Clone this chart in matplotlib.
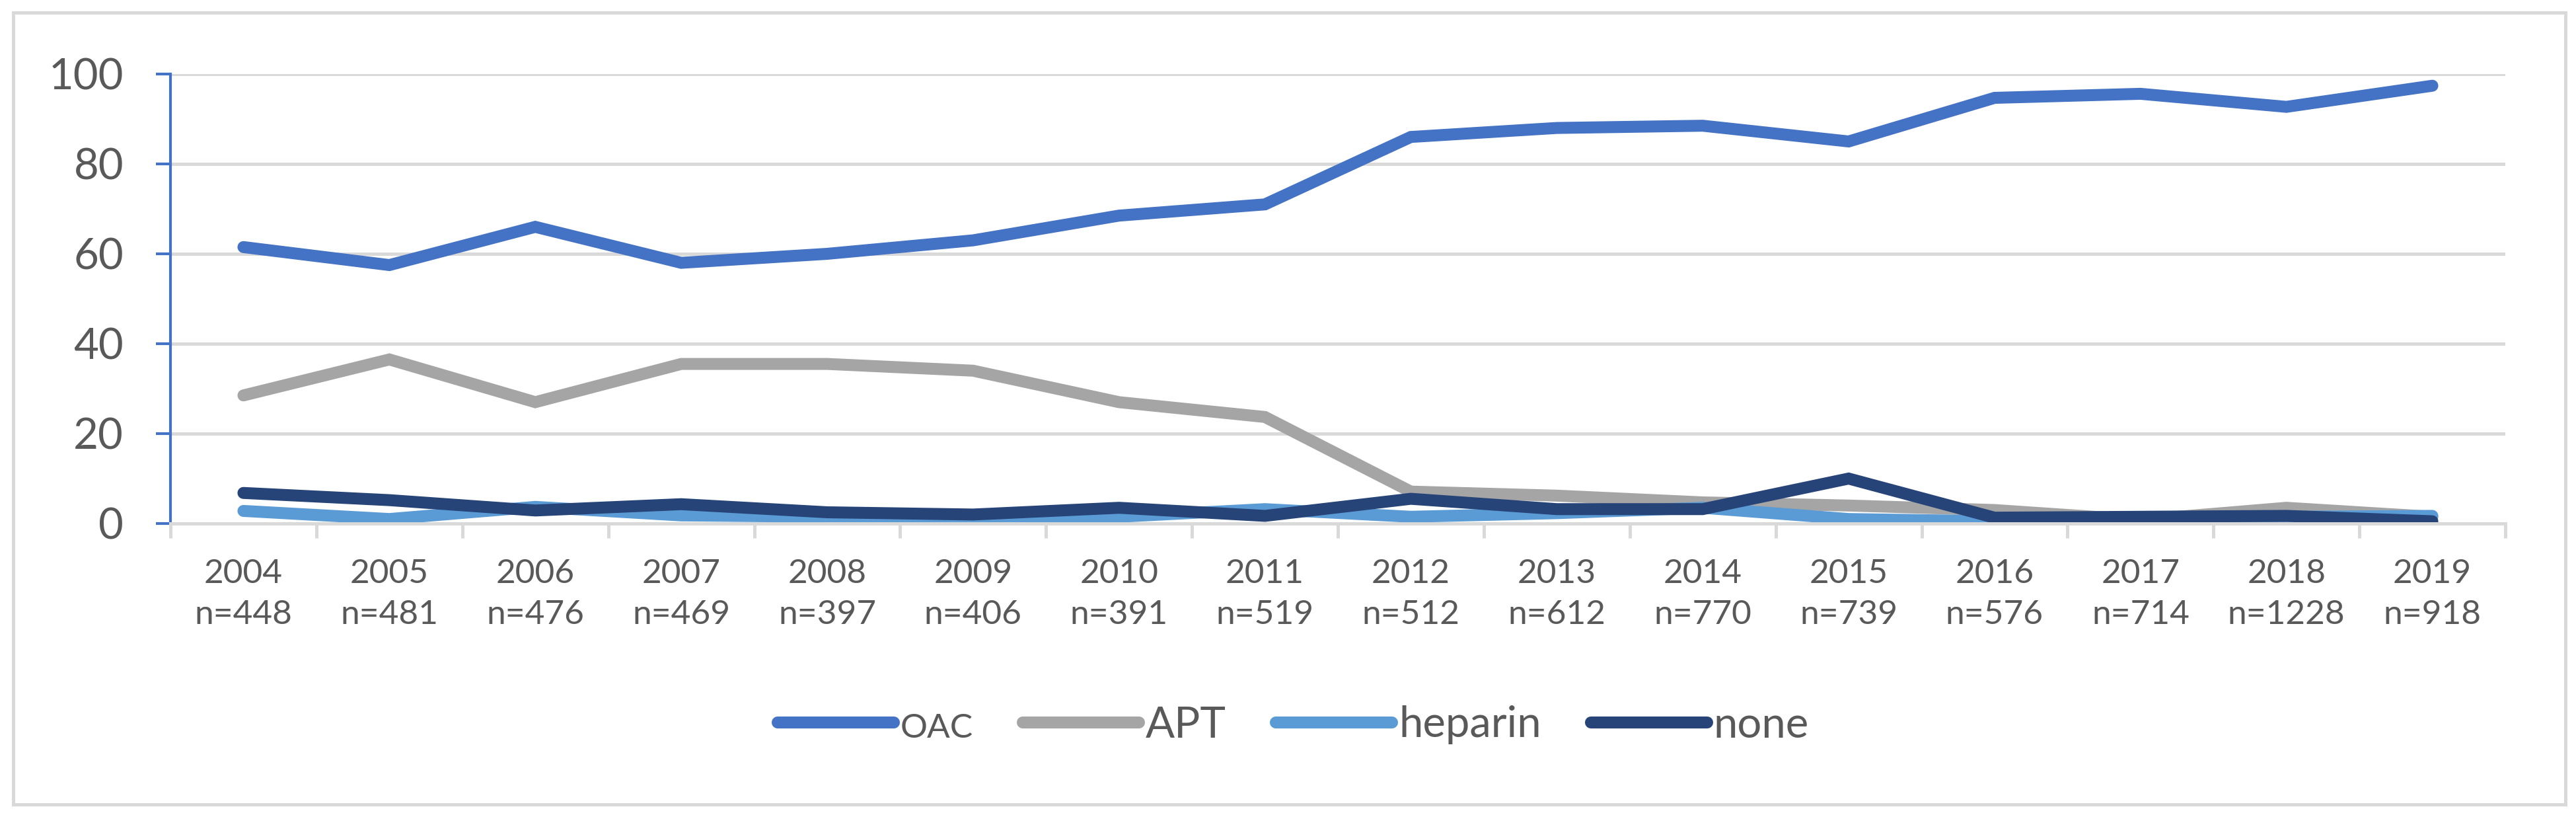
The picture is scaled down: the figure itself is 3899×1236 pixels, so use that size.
import matplotlib
matplotlib.use("Agg")
import matplotlib.pyplot as plt
import numpy as np
from matplotlib.patches import Rectangle

plt.rcParams['font.family'] = ['Lato', 'DejaVu Sans']

years = ['2004', '2005', '2006', '2007', '2008', '2009', '2010', '2011',
         '2012', '2013', '2014', '2015', '2016', '2017', '2018', '2019']
counts = ['448', '481', '476', '469', '397', '406', '391', '519',
          '512', '612', '770', '739', '576', '714', '1228', '918']

oac = [61.5, 57.5, 66.0, 58.0, 60.0, 63.0, 68.5, 71.0,
       86.0, 88.0, 88.5, 85.0, 94.7, 95.6, 92.7, 97.4]
apt = [28.5, 36.5, 27.0, 35.5, 35.5, 34.0, 27.0, 23.7,
       7.1, 6.2, 4.7, 4.0, 3.0, 0.8, 3.5, 1.5]
heparin = [2.8, 1.0, 3.7, 1.8, 1.5, 1.2, 1.5, 3.2,
           1.5, 2.3, 3.5, 1.0, 0.5, 1.0, 1.5, 1.7]
none = [6.8, 5.2, 2.9, 4.3, 2.5, 2.0, 3.5, 1.7,
        5.5, 3.2, 3.2, 10.0, 1.3, 1.5, 1.7, 0.5]

series = [('OAC', oac, '#4472C4'), ('APT', apt, '#A5A5A5'),
          ('heparin', heparin, '#5B9BD5'), ('none', none, '#264478')]

txt = '#595959'
grid = '#D9D9D9'

fig = plt.figure(figsize=(38.99, 12.36), dpi=100)
ax = fig.add_axes([258/3899, 1 - 792/1236, (3792-258)/3899, (792-112)/1236])

x = np.arange(len(years))
for name, vals, col in series:
    ax.plot(x, vals, color=col, lw=13, label=name,
            solid_capstyle='round', solid_joinstyle='miter')

ax.set_xlim(-0.5, len(years) - 0.5)
ax.set_ylim(0, 100)
ax.set_yticks([0, 20, 40, 60, 80, 100])
ax.yaxis.grid(True, color=grid, lw=3.6)
ax.set_axisbelow(True)

ax.set_xticks(x)
ax.set_xticklabels([y + '\nn=' + c for y, c in zip(years, counts)],
                   fontsize=37, color=txt, linespacing=1.45)
ax.set_xticks(np.arange(-0.5, len(years)), minor=True)
ax.tick_params(axis='x', which='major', length=0, pad=38)
ax.tick_params(axis='x', which='minor', length=16, width=3.6, color=grid)
ax.tick_params(axis='y', length=16, width=3, color='#4472C4',
               labelsize=47, labelcolor=txt, pad=35)

for s in ['top', 'right']:
    ax.spines[s].set_visible(False)
ax.spines['left'].set_color('#4472C4')
ax.spines['left'].set_linewidth(3)
ax.spines['bottom'].set_color(grid)
ax.spines['bottom'].set_linewidth(3.6)

leg = fig.legend(loc='center', bbox_to_anchor=(0.502, 1 - 1097/1236), ncol=4,
                 frameon=False, fontsize=47, handlelength=2.7,
                 handletextpad=0.15, columnspacing=1.15)
for t in leg.get_texts():
    t.set_color(txt)
leg.get_texts()[0].set_fontsize(37)

fig.add_artist(Rectangle((20/3899, 19/1236), (3883-20)/3899, (1217-19)/1236,
                         transform=fig.transFigure, fill=False,
                         edgecolor=grid, lw=3.6))

fig.savefig('out.png', dpi=100)
